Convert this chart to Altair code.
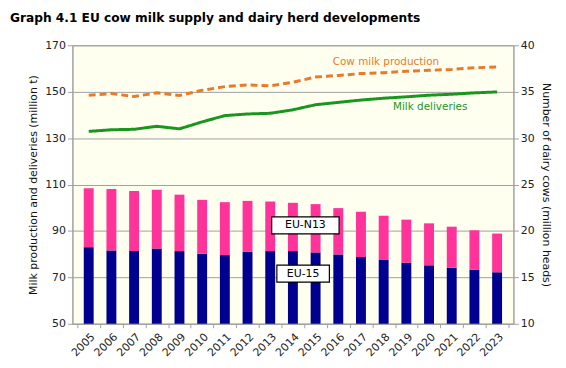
import altair as alt
import pandas as pd

years = list(range(2005, 2024))
# dairy cows, million heads (right axis)
eu15_cows = [18.25, 17.9, 17.83, 18.11, 17.83, 17.55, 17.4, 17.76, 17.83, 17.83,
             17.69, 17.47, 17.19, 16.87, 16.59, 16.3, 16.05, 15.84, 15.55]
eu_total_cows = [24.6, 24.52, 24.3, 24.44, 23.91, 23.35, 23.1, 23.24, 23.17, 23.03,
                 22.89, 22.46, 22.07, 21.64, 21.22, 20.82, 20.46, 20.07, 19.72]
# milk, million t (left axis)
production = [148.5, 149.2, 147.9, 149.5, 148.4, 150.6, 152.2, 152.9, 152.5, 154.1,
              156.3, 157.0, 157.8, 158.2, 158.8, 159.2, 159.6, 160.3, 160.7]
deliveries = [132.9, 133.6, 133.8, 135.1, 134.0, 137.0, 139.7, 140.4, 140.7, 142.2,
              144.4, 145.4, 146.4, 147.2, 147.8, 148.5, 148.9, 149.5, 149.9]

line_names = ["Cow milk production", "Milk deliveries"]
line_label_x = [2018.1, 2020.05]
line_label_y = [162.9, 143.2]

box_names = ["EU-N13", "EU-15"]
box_x = [2014.55, 2014.45]
box_y = [20.6, 15.4]

FONT = "DejaVu Sans"
NAVY = "#000090"
PINK = "#FF3399"
GREEN = "#1A961E"
ORANGE = "#E87A2C"
GRID = "#A0A0A0"

bars_df = pd.DataFrame(
    [{"year": y, "lo": 10, "hi": a, "series": "EU-15"} for y, a in zip(years, eu15_cows)]
    + [{"year": y, "lo": a, "hi": t, "series": "EU-N13"}
       for y, a, t in zip(years, eu15_cows, eu_total_cows)]
)
lines_df = pd.DataFrame(
    [{"year": y, "value": v, "series": line_names[0]} for y, v in zip(years, production)]
    + [{"year": y, "value": v, "series": line_names[1]} for y, v in zip(years, deliveries)]
)
line_lab_df = pd.DataFrame({"name": line_names, "x": line_label_x, "y": line_label_y})
box_df = pd.DataFrame({"name": box_names, "x": box_x, "y": box_y})

xscale = alt.Scale(domain=[2004.5, 2023.5], nice=False, zero=False)
yright = alt.Scale(domain=[10, 40], nice=False, zero=False)
yleft = alt.Scale(domain=[50, 170], nice=False, zero=False)

x_tick_axis = alt.Axis(values=[y - 0.5 for y in years] + [2023.5], labels=False, ticks=True,
                       tickSize=4, tickColor=GRID, domainColor=GRID, grid=False, title=None,
                       orient="bottom")
x_label_axis = alt.Axis(values=years, format="d", ticks=False, domain=False, grid=False,
                        labelAngle=-45, labelAlign="right", labelBaseline="top",
                        labelPadding=7, labelFontSize=11, labelFont=FONT, labelColor="#222",
                        labelOverlap=False, labelSeparation=0, labelBound=False,
                        labelFlush=False, title=None, orient="bottom")

right_axis = alt.Axis(values=[10, 15, 20, 25, 30, 35, 40], orient="right", grid=False,
                      tickSize=5, tickColor=GRID, domainColor=GRID,
                      labelFontSize=11, labelFont=FONT, labelColor="#222",
                      title="Number of dairy cows (million heads)", titleFont=FONT,
                      titleFontSize=11, titleFontWeight="normal", titleColor="#111",
                      titlePadding=6)
left_axis = alt.Axis(values=[50, 70, 90, 110, 130, 150, 170], orient="left", grid=True,
                     gridColor=GRID, gridWidth=1, tickSize=5, tickColor=GRID,
                     domainColor=GRID, labelFontSize=11, labelFont=FONT, labelColor="#222",
                     title="Milk production and deliveries (million t)", titleFont=FONT,
                     titleFontSize=11, titleFontWeight="normal", titleColor="#111",
                     titlePadding=6)

bars = alt.Chart(bars_df).mark_bar(size=10).encode(
    x=alt.X("year:Q", scale=xscale, axis=x_tick_axis),
    y=alt.Y("hi:Q", scale=yright, axis=right_axis),
    y2="lo:Q",
    color=alt.Color("series:N", scale=alt.Scale(domain=["EU-15", "EU-N13"], range=[NAVY, PINK]),
                    legend=None),
)

boxes = alt.Chart(box_df).mark_point(filled=True, fill="white", stroke="black",
                                     strokeWidth=1.2, opacity=1, size=4).encode(
    x=alt.X("x:Q", scale=xscale, axis=x_tick_axis),
    y=alt.Y("y:Q", scale=yright, axis=right_axis),
    shape=alt.Shape("name:N", scale=alt.Scale(
        domain=box_names,
        range=["M-34,-8.5L34,-8.5L34,8.5L-34,8.5Z", "M-26.5,-8.5L26.5,-8.5L26.5,8.5L-26.5,8.5Z"]),
        legend=None),
)
box_text = alt.Chart(box_df).mark_text(font=FONT, fontSize=11, color="black").encode(
    x=alt.X("x:Q", scale=xscale, axis=x_tick_axis),
    y=alt.Y("y:Q", scale=yright, axis=right_axis),
    text="name:N",
)
right_layer = alt.layer(bars, boxes, box_text)

lines = alt.Chart(lines_df).mark_line(strokeWidth=3).encode(
    x=alt.X("year:Q", scale=xscale, axis=x_label_axis),
    y=alt.Y("value:Q", scale=yleft, axis=left_axis),
    color=alt.Color("series:N", scale=alt.Scale(domain=line_names, range=[ORANGE, GREEN]),
                    legend=None),
    strokeDash=alt.StrokeDash("series:N", scale=alt.Scale(domain=line_names,
                                                          range=[[7, 4], [1, 0]]),
                              legend=None),
)
line_text = alt.Chart(line_lab_df).mark_text(font=FONT, fontSize=10.5).encode(
    x=alt.X("x:Q", scale=xscale, axis=x_label_axis),
    y=alt.Y("y:Q", scale=yleft, axis=left_axis),
    text="name:N",
    color=alt.Color("name:N", scale=alt.Scale(domain=line_names, range=[ORANGE, GREEN]),
                    legend=None),
)
left_layer = alt.layer(lines, line_text)

chart = alt.layer(right_layer, left_layer).resolve_scale(
    y="independent", color="independent"
).resolve_axis(x="independent").properties(
    width=445,
    height=281,
    autosize=alt.AutoSizeParams(type="none"),
    padding={"left": 65, "top": 36, "right": 45, "bottom": 43},
    background="white",
    title=alt.TitleParams(
        "Graph 4.1  EU cow milk supply and dairy herd developments",
        anchor="start", frame="group", font=FONT, fontSize=12.3, fontWeight="bold",
        color="#000", dx=-63, offset=5, baseline="alphabetic",
    ),
).configure_view(fill="#FFFFF0", stroke=GRID, strokeWidth=1).configure_axis(
    labelOverlap=False
)

chart.save("out.html", embed_options={"renderer": "svg", "actions": False})
